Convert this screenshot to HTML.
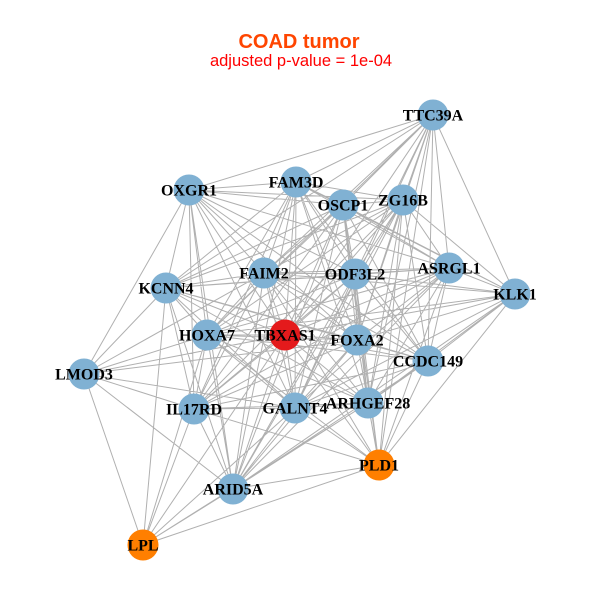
<!DOCTYPE html>
<html><head><meta charset="utf-8"><style>
html,body{margin:0;padding:0;background:#fff;}
svg{display:block;}
.l{font-family:"Liberation Serif",serif;font-weight:bold;font-size:16px;fill:#000;text-anchor:middle;}
</style></head><body>
<svg width="600" height="600" viewBox="0 0 600 600" xmlns="http://www.w3.org/2000/svg">
<rect width="600" height="600" fill="#fff"/>
<text x="299" y="48" text-anchor="middle" style="font-family:'Liberation Sans',sans-serif;font-weight:bold;font-size:20px;fill:#ff4500">COAD tumor</text>
<text x="301" y="66" text-anchor="middle" style="font-family:'Liberation Sans',sans-serif;font-size:16.5px;fill:#ff0000">adjusted p-value = 1e-04</text>
<path fill="none" stroke="#b0b0b0" stroke-width="1" d="
M433,115L189,190 M433,115L296,182 M433,115L343,205 M433,115L403,200 M433,115L264,273 M433,115L207,335 M433,115L285,335 M433,115L355,274 M433,115L357,340 M433,115L295,408 M433,115L368,403 M433,115L449,268 M433,115L428,361 M433,115L515,294 M433,115L379,465 M433,115L166,288
M189,190L296,182 M189,190L343,205 M189,190L403,200 M189,190L166,288 M189,190L264,273 M189,190L207,335 M189,190L285,335 M189,190L194,409 M189,190L295,408 M189,190L355,274 M189,190L357,340 M189,190L84,374 M189,190L233,489 M189,190L449,268 M189,190L428,361
M296,182L343,205 M296,182L403,200 M296,182L264,273 M296,182L355,274 M296,182L207,335 M296,182L285,335 M296,182L357,340 M296,182L295,408 M296,182L194,409 M296,182L233,489 M296,182L368,403 M296,182L449,268 M296,182L166,288 M296,182L428,361 M296,182L515,294
M343,205L403,200 M343,205L264,273 M343,205L355,274 M343,205L357,340 M343,205L285,335 M343,205L207,335 M343,205L166,288 M343,205L295,408 M343,205L194,409 M343,205L368,403 M343,205L449,268 M343,205L428,361 M343,205L515,294 M343,205L233,489 M343,205L379,465
M403,200L264,273 M403,200L355,274 M403,200L357,340 M403,200L285,335 M403,200L207,335 M403,200L166,288 M403,200L295,408 M403,200L194,409 M403,200L368,403 M403,200L449,268 M403,200L428,361 M403,200L515,294 M403,200L233,489 M403,200L379,465
M449,268L264,273 M449,268L355,274 M449,268L357,340 M449,268L285,335 M449,268L207,335 M449,268L166,288 M449,268L295,408 M449,268L194,409 M449,268L368,403 M449,268L428,361 M449,268L515,294 M449,268L233,489 M449,268L379,465
M515,294L355,274 M515,294L264,273 M515,294L357,340 M515,294L285,335 M515,294L207,335 M515,294L428,361 M515,294L295,408 M515,294L368,403 M515,294L233,489 M515,294L379,465
M166,288L264,273 M166,288L355,274 M166,288L207,335 M166,288L285,335 M166,288L357,340 M166,288L295,408 M166,288L194,409 M166,288L233,489 M166,288L84,374 M166,288L143,545 M166,288L368,403 M166,288L428,361
M264,273L355,274 M264,273L207,335 M264,273L285,335 M264,273L357,340 M264,273L295,408 M264,273L194,409 M264,273L233,489 M264,273L368,403 M264,273L428,361 M264,273L84,374 M264,273L379,465
M355,274L207,335 M355,274L285,335 M355,274L357,340 M355,274L295,408 M355,274L194,409 M355,274L233,489 M355,274L368,403 M355,274L428,361 M355,274L379,465
M207,335L285,335 M207,335L357,340 M207,335L295,408 M207,335L194,409 M207,335L233,489 M207,335L368,403 M207,335L428,361 M207,335L84,374 M207,335L143,545 M207,335L379,465
M285,335L357,340 M285,335L295,408 M285,335L194,409 M285,335L233,489 M285,335L368,403 M285,335L428,361 M285,335L84,374 M285,335L379,465 M285,335L143,545
M357,340L295,408 M357,340L194,409 M357,340L233,489 M357,340L368,403 M357,340L428,361 M357,340L379,465 M357,340L84,374
M428,361L295,408 M428,361L194,409 M428,361L233,489 M428,361L368,403 M428,361L379,465
M84,374L194,409 M84,374L295,408 M84,374L233,489 M84,374L143,545
M194,409L295,408 M194,409L233,489 M194,409L368,403 M194,409L379,465 M194,409L143,545
M295,408L233,489 M295,408L368,403 M295,408L379,465 M295,408L143,545
M368,403L233,489 M368,403L379,465 M368,403L143,545
M379,465L233,489 M379,465L143,545
M233,489L143,545
"/>
<g stroke="none">
<circle cx="433" cy="115" r="15.5" fill="#80b1d3"/>
<circle cx="189" cy="190" r="15.5" fill="#80b1d3"/>
<circle cx="296" cy="182" r="15.5" fill="#80b1d3"/>
<circle cx="343" cy="205" r="15.5" fill="#80b1d3"/>
<circle cx="403" cy="200" r="15.5" fill="#80b1d3"/>
<circle cx="449" cy="268" r="15.5" fill="#80b1d3"/>
<circle cx="515" cy="294" r="15.5" fill="#80b1d3"/>
<circle cx="166" cy="288" r="15.5" fill="#80b1d3"/>
<circle cx="264" cy="273" r="15.5" fill="#80b1d3"/>
<circle cx="355" cy="274" r="15.5" fill="#80b1d3"/>
<circle cx="207" cy="335" r="15.5" fill="#80b1d3"/>
<circle cx="285" cy="335" r="15.5" fill="#e41a1c"/>
<circle cx="357" cy="340" r="15.5" fill="#80b1d3"/>
<circle cx="428" cy="361" r="15.5" fill="#80b1d3"/>
<circle cx="84" cy="374" r="15.5" fill="#80b1d3"/>
<circle cx="194" cy="409" r="15.5" fill="#80b1d3"/>
<circle cx="295" cy="408" r="15.5" fill="#80b1d3"/>
<circle cx="368" cy="403" r="15.5" fill="#80b1d3"/>
<circle cx="379" cy="465" r="15.5" fill="#ff7f00"/>
<circle cx="233" cy="489" r="15.5" fill="#80b1d3"/>
<circle cx="143" cy="545" r="15.5" fill="#ff7f00"/>
</g>
<g class="l">
<text class="l" x="433" y="120.5">TTC39A</text>
<text class="l" x="189" y="195.5">OXGR1</text>
<text class="l" x="296" y="187.5">FAM3D</text>
<text class="l" x="343" y="210.5">OSCP1</text>
<text class="l" x="403" y="205.5">ZG16B</text>
<text class="l" x="449" y="273.5">ASRGL1</text>
<text class="l" x="515" y="299.5">KLK1</text>
<text class="l" x="166" y="293.5">KCNN4</text>
<text class="l" x="264" y="278.5">FAIM2</text>
<text class="l" x="355" y="279.5">ODF3L2</text>
<text class="l" x="207" y="340.5">HOXA7</text>
<text class="l" x="285" y="340.5">TBXAS1</text>
<text class="l" x="357" y="345.5">FOXA2</text>
<text class="l" x="428" y="366.5">CCDC149</text>
<text class="l" x="84" y="379.5">LMOD3</text>
<text class="l" x="194" y="414.5">IL17RD</text>
<text class="l" x="295" y="413.5">GALNT4</text>
<text class="l" x="368" y="408.5">ARHGEF28</text>
<text class="l" x="379" y="470.5">PLD1</text>
<text class="l" x="233" y="494.5">ARID5A</text>
<text class="l" x="143" y="550.5">LPL</text>
</g>
</svg>
</body></html>
